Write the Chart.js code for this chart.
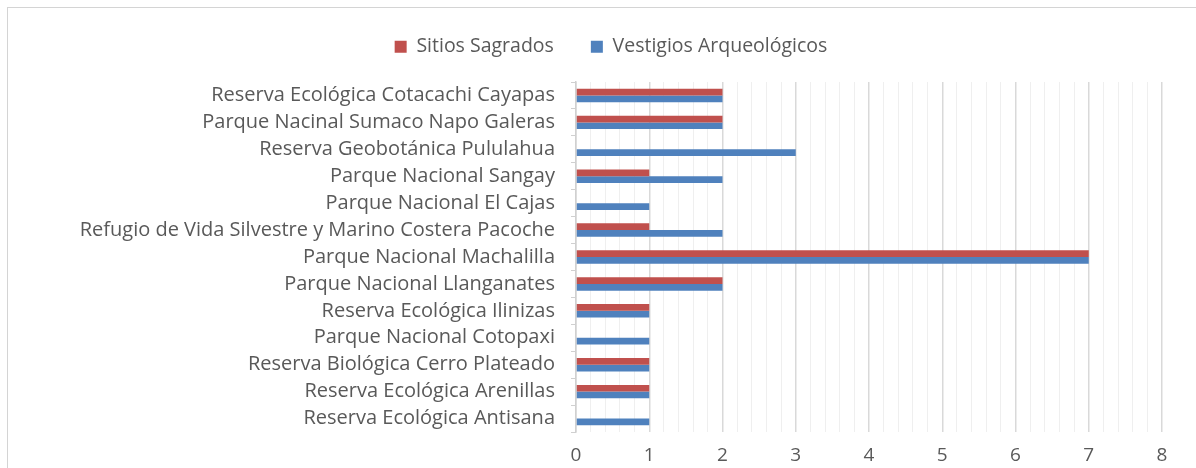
<!DOCTYPE html>
<html>
<head>
<meta charset="utf-8">
<script src="https://cdn.jsdelivr.net/npm/chart.js@4.4.1/dist/chart.umd.min.js"></script>
<style>
  html, body { margin: 0; padding: 0; background: #fff; }
  #wrap { position: relative; width: 1196px; height: 468px; overflow: hidden; }
  #frame { position: absolute; left: 7px; top: 7px; width: 1200px; height: 480px; border: 1px solid #d4d4d4; box-sizing: border-box; }
  #c { position: absolute; left: 0; top: 0; }
</style>
</head>
<body>
<div id="wrap">
  <div id="frame"></div>
  <canvas id="c" width="1196" height="468"></canvas>
</div>
<script>
const areas = [
  'Reserva Ecológica Cotacachi Cayapas',
  'Parque Nacinal Sumaco Napo Galeras',
  'Reserva Geobotánica Pululahua',
  'Parque Nacional Sangay',
  'Parque Nacional El Cajas',
  'Refugio de Vida Silvestre y Marino Costera Pacoche',
  'Parque Nacional Machalilla',
  'Parque Nacional Llanganates',
  'Reserva Ecológica Ilinizas',
  'Parque Nacional Cotopaxi',
  'Reserva Biológica Cerro Plateado',
  'Reserva Ecológica Arenillas',
  'Reserva Ecológica Antisana'
];
const sitiosSagrados = [2, 2, 0, 1, 0, 1, 7, 2, 1, 0, 1, 1, 0];
const vestigios      = [2, 2, 3, 2, 1, 2, 7, 2, 1, 1, 1, 1, 1];

const textColor = '#595959';
const fontFam = "'Open Sans', 'Noto Sans', sans-serif";

// legend needs extra room below it, like the Excel original
const legendGap = {
  id: 'legendGap',
  beforeLayout(chart) {
    const lg = chart.legend;
    if (lg && !lg._gapPatched) {
      const fit = lg.fit.bind(lg);
      lg.fit = function () { fit(); this.height = 82; };
      lg._gapPatched = true;
    }
  }
};

new Chart(document.getElementById('c'), {
  type: 'bar',
  data: {
    labels: areas,
    datasets: [
      {
        label: 'Sitios Sagrados',
        data: sitiosSagrados,
        backgroundColor: '#c0504d',
        borderWidth: 0,
        categoryPercentage: 0.5,
        barPercentage: 1
      },
      {
        label: 'Vestigios Arqueológicos',
        data: vestigios,
        backgroundColor: '#4f81bd',
        borderWidth: 0,
        categoryPercentage: 0.5,
        barPercentage: 1
      }
    ]
  },
  options: {
    indexAxis: 'y',
    responsive: false,
    animation: false,
    layout: { padding: { top: 0, right: 34, bottom: 0, left: 60 } },
    plugins: {
      legend: {
        position: 'top',
        labels: {
          boxWidth: 12,
          boxHeight: 12,
          padding: 37,
          color: textColor,
          font: { family: fontFam, size: 19.5 }
        }
      },
      tooltip: { enabled: false }
    },
    scales: {
      x: {
        min: 0,
        max: 8,
        ticks: {
          stepSize: 0.2,
          autoSkip: false,
          maxRotation: 0,
          padding: 12,
          color: textColor,
          font: { family: fontFam, size: 19 },
          callback: (v) => Math.abs(v - Math.round(v)) < 1e-6 ? String(Math.round(v)) : ''
        },
        grid: {
          drawTicks: false,
          color: (ctx) => {
            const v = ctx.tick ? ctx.tick.value : 0;
            return Math.abs(v - Math.round(v)) < 1e-6 ? '#d9d9d9' : '#efefef';
          },
          lineWidth: (ctx) => {
            const v = ctx.tick ? ctx.tick.value : 0;
            return Math.abs(v - Math.round(v)) < 1e-6 ? 1.5 : 1;
          }
        },
        border: { display: false },
        afterFit: (scale) => { scale.height = 36; }
      },
      y: {
        ticks: {
          padding: 16,
          color: textColor,
          font: { family: fontFam, size: 20 },
          autoSkip: false
        },
        grid: {
          offset: true,
          drawOnChartArea: false,
          drawTicks: true,
          tickLength: 5,
          color: '#d0d0d0'
        },
        border: { display: true, color: '#d0d0d0', width: 1.5 },
        afterFit: (scale) => { scale.width = 516; }
      }
    }
  },
  plugins: [legendGap]
});
</script>
</body>
</html>
